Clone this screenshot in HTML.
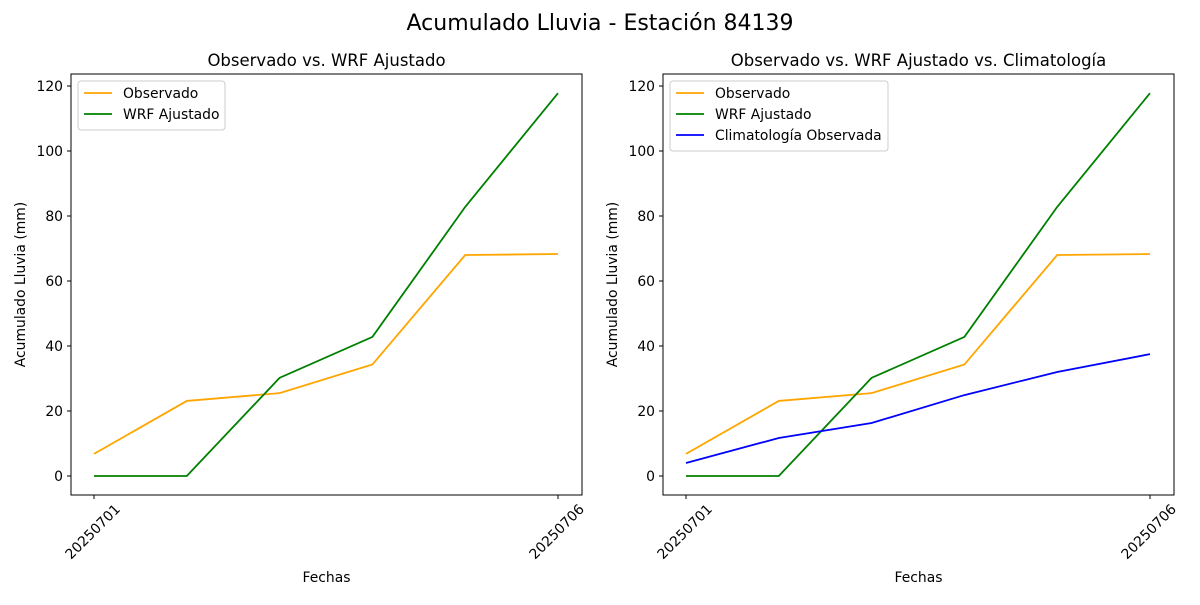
<!DOCTYPE html>
<html><head><meta charset="utf-8"><style>
body{margin:0;background:#fff;font-family:"Liberation Sans","DejaVu Sans",sans-serif;}
svg text{font-family:"DejaVu Sans","Liberation Sans",sans-serif;}
</style></head><body>
<svg id="fig" width="1200" height="600" xmlns="http://www.w3.org/2000/svg">
<text x="600" y="30" font-size="22" text-anchor="middle">Acumulado Lluvia - Estación 84139</text>
</svg>
<script>
const categories=["20250701","20250702","20250703","20250704","20250705","20250706"];
const observado=[6.8,23.1,25.5,34.3,68.0,68.3];
const wrf=[0,0,30.2,42.8,82.8,117.8];
const clim=[4.0,11.7,16.3,24.9,32.0,37.5];
const yTicks=[0,20,40,60,80,100,120];
const xTickIdx=[0,5];
const NS="http://www.w3.org/2000/svg";
const svg=document.getElementById('fig');
function mk(tag,attrs,parent){const e=document.createElementNS(NS,tag);for(const k in attrs)e.setAttribute(k,attrs[k]);(parent||svg).appendChild(e);return e;}
function panel(x0,title,series,legend){
  const x1=x0+511,yT=74,yB=495;
  const g=mk('g',{});
  
  
  const xs=i=>x0+23+i*(464/(categories.length-1));
  const ys=v=>476-v*3.25;
  const t=mk('text',{x:(x0+x1)/2,y:66,'font-size':16.5,'text-anchor':'middle'},g);t.textContent=title;
  
  yTicks.forEach(v=>{const y=ys(v);mk('line',{x1:x0-4,x2:x0,y1:y,y2:y,stroke:'#000'},g);
    const tx=mk('text',{x:x0-8,y:y+5,'font-size':13.9,'text-anchor':'end'},g);tx.textContent=v;
    });
  xTickIdx.forEach(i=>{const x=xs(i);mk('line',{x1:x,x2:x,y1:yB,y2:yB+4,stroke:'#000'},g);
    const tx=mk('text',{x:0,y:0,'font-size':13.9,'text-anchor':'end',transform:`translate(${x+27},${yB+15}) rotate(-45)`},g);tx.textContent=categories[i];
    });
  const xl=mk('text',{x:(x0+x1)/2,y:582,'font-size':13.9,'text-anchor':'middle'},g);xl.textContent='Fechas';
  
  const yl=mk('text',{x:0,y:0,'font-size':13.9,'text-anchor':'middle',transform:`translate(${x0-46},${(yT+yB)/2}) rotate(-90)`},g);yl.textContent='Acumulado Lluvia (mm)';
  
  series.forEach(s=>{const p=mk('polyline',{points:s.data.map((v,i)=>xs(i)+','+ys(v)).join(' '),fill:'none',stroke:s.color,'stroke-width':1.8},g);
    });
  const fr=mk('rect',{x:x0,y:yT,width:x1-x0,height:yB-yT,fill:'none',stroke:'#000','stroke-width':1},g);
  
  const lw=legend.w,lh=series.length*21+7;
  const lg=mk('g',{},g);
  mk('rect',{x:x0+7,y:81,width:lw,height:lh,fill:'#fff',stroke:'#ccc',rx:3},lg);
  series.forEach((s,i)=>{const y=93+i*21;mk('line',{x1:x0+13,x2:x0+41,y1:y,y2:y,stroke:s.color,'stroke-width':1.8},lg);
    const tx=mk('text',{x:x0+52,y:y+5,'font-size':13.9},lg);tx.textContent=s.label;
    });
}
panel(71,'Observado vs. WRF Ajustado',[
 {name:'observado-line',label:'Observado',color:'orange',data:observado},
 {name:'wrf-line',label:'WRF Ajustado',color:'green',data:wrf}],{w:147});
panel(663,'Observado vs. WRF Ajustado vs. Climatología',[
 {name:'observado-line',label:'Observado',color:'orange',data:observado},
 {name:'wrf-line',label:'WRF Ajustado',color:'green',data:wrf},
 {name:'climatologia-line',label:'Climatología Observada',color:'blue',data:clim}],{w:218});
</script>
</body></html>
